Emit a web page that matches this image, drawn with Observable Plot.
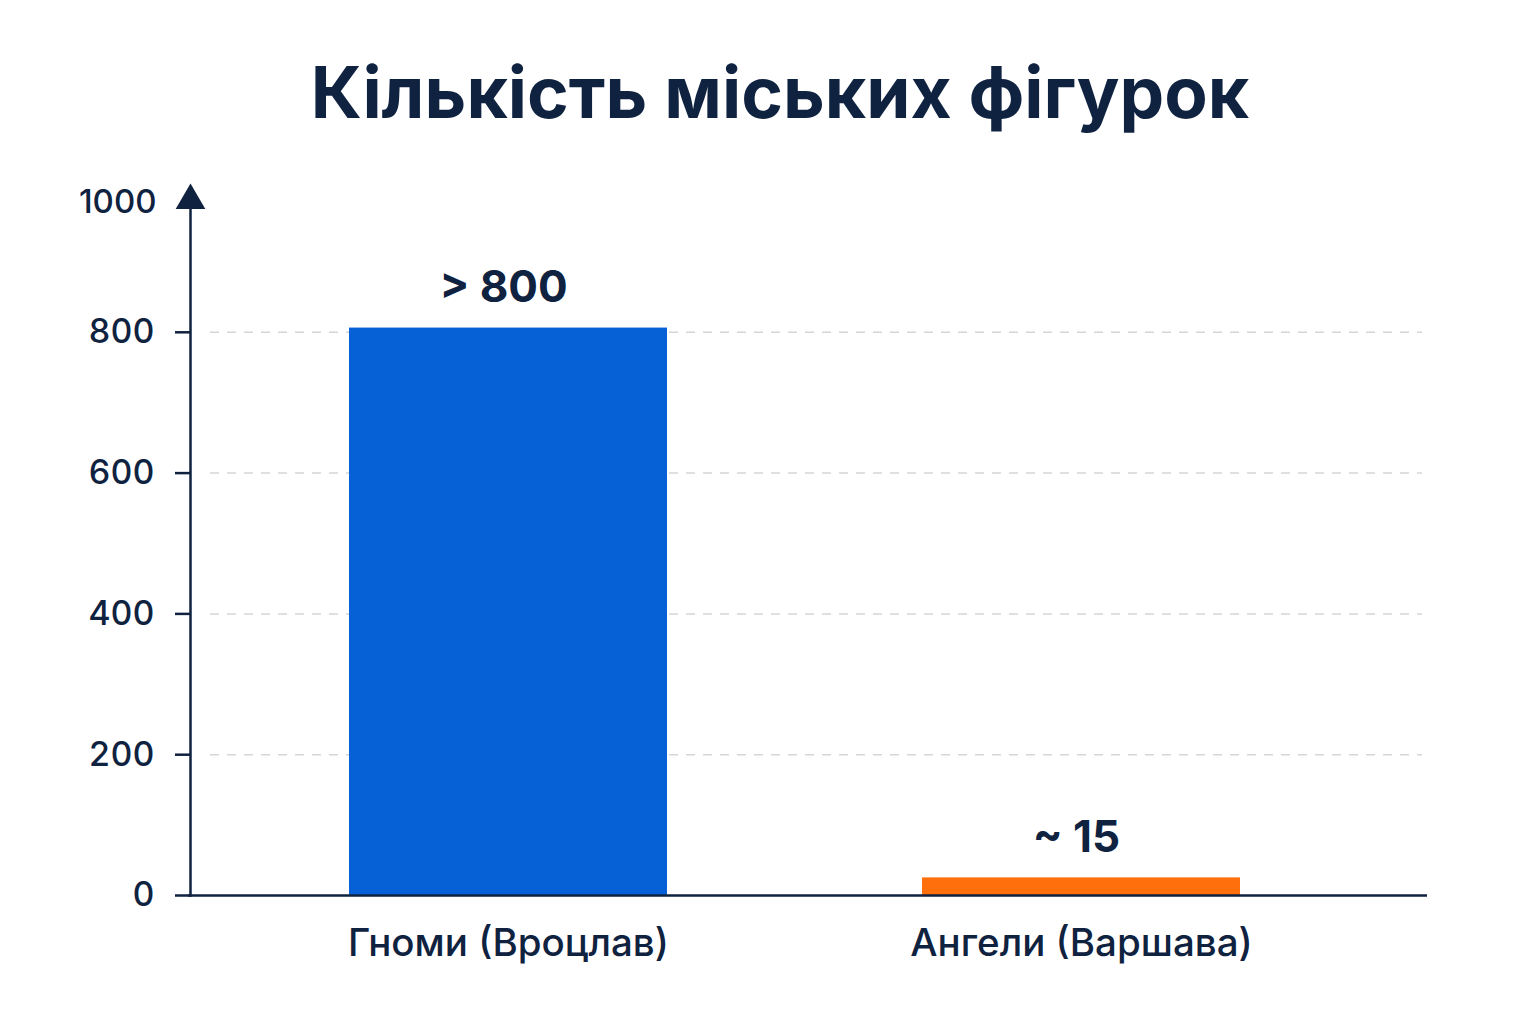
<!DOCTYPE html>
<html>
<head>
<meta charset="utf-8">
<script src="https://cdn.jsdelivr.net/npm/d3@7"></script>
<script src="https://cdn.jsdelivr.net/npm/@observablehq/plot@0.6"></script>
<style>
  html, body { margin: 0; padding: 0; background: #ffffff; width: 1536px; height: 1024px; overflow: hidden; }
  #title { position: absolute; top: 57px; left: 12px; width: 1536px; text-align: center;
    font-family: Inter, "Noto Sans", sans-serif; font-weight: 700; font-size: 71px; line-height: 71px; color: #0f2240; }
  #chart { position: absolute; top: 160px; left: 0; }
</style>
</head>
<body>
<div id="title">Кількість міських фігурок</div>
<div id="chart"></div>
<script>
const categories = ["Гноми (Вроцлав)", "Ангели (Варшава)"];
const values = [806, 25];
const valueLabels = ["> 800", "~ 15"];
const barColors = ["#0761d6", "#ff700c"];
const yTicks = [0, 200, 400, 600, 800, 1000];
const gridTicks = [200, 400, 600, 800];

const data = categories.map((c, i) => ({category: c, value: values[i], label: valueLabels[i], color: barColors[i]}));
const ink = "#0f2240";
const topTick = yTicks[yTicks.length - 1];

const chart = Plot.plot({
  width: 1536,
  height: 860,
  marginLeft: 190,
  marginRight: 111,
  marginTop: 31,
  marginBottom: 125,
  style: {fontFamily: "Inter, 'Noto Sans', sans-serif", background: "transparent", color: ink},
  x: {domain: categories, paddingInner: 0.445, paddingOuter: 0.3, align: 0.462, label: null},
  y: {domain: [0, 1000], label: null},
  marks: [
    Plot.ruleY(gridTicks, {stroke: "#d6d6d6", strokeWidth: 1.5, strokeDasharray: "9,8", insetLeft: 20, insetRight: 3}),
    Plot.barY(data, {x: "category", y: "value", fill: "color"}),
    Plot.text(data, {x: "category", y: "value", text: "label", dy: -40, dx: -5, fontSize: 44, fontWeight: 700, fill: ink}),
    Plot.axisY({ticks: yTicks.filter(t => t < topTick), tickSize: 15, tickPadding: 21, fontSize: 34, fontWeight: 500, stroke: ink, strokeWidth: 2.5, fill: ink, tickFormat: d => String(d)}),
    Plot.text([topTick], {y: d => d, frameAnchor: "left", text: d => String(d), textAnchor: "end", dx: -34, dy: 11, fontSize: 33, fontWeight: 500, fill: ink}),
    Plot.axisX({tickSize: 0, tickPadding: 33, fontSize: 38.5, fill: ink, fontWeight: 500}),
    Plot.frame({anchor: "left", stroke: ink, strokeWidth: 2.5}),
    Plot.ruleY([0], {stroke: ink, strokeWidth: 2.5, insetLeft: -2, insetRight: -2}),
    Plot.dot([topTick], {y: d => d, frameAnchor: "left", symbol: "triangle", r: 11, fill: ink, stroke: "none", dy: 9})
  ]
});
document.getElementById("chart").appendChild(chart);
</script>
</body>
</html>
